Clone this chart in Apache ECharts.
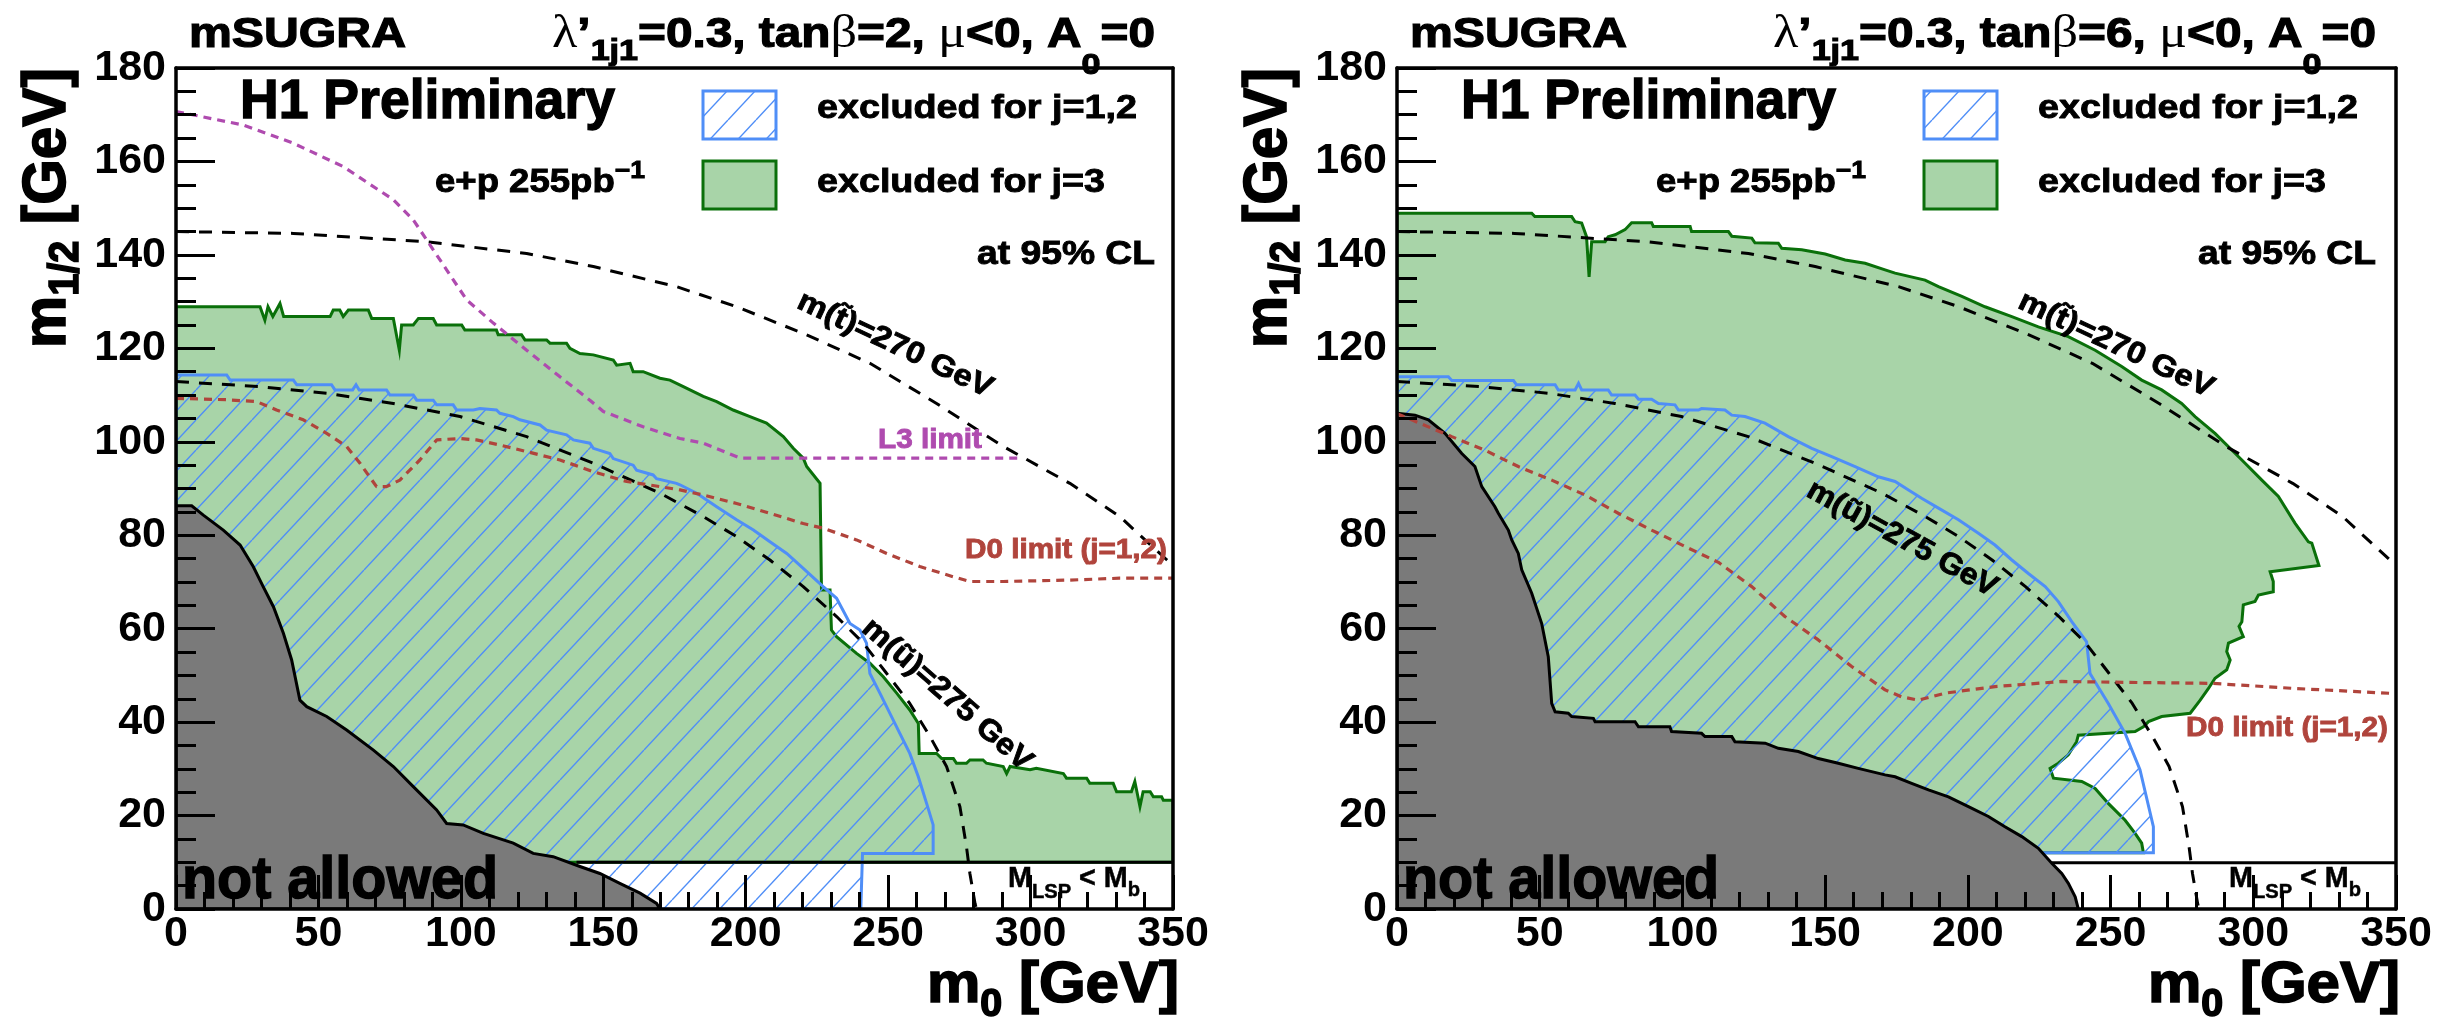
<!DOCTYPE html>
<html><head><meta charset="utf-8">
<script src="https://cdn.jsdelivr.net/npm/echarts/dist/echarts.min.js"></script>
<style>html,body{margin:0;padding:0;background:#fff}#c{width:2458px;height:1033px}</style>
</head><body><div id="c"></div>
<script>
// ---------------- data (m0 [GeV], m1/2 [GeV]) ----------------
// common sfermion mass contours
const stopContour = [[0,145],[41.2,144.6],[88,142.8],[123.1,140.3],[146.5,137.5],[175.7,133.2],[196.8,128.9],[220.2,123.2],[243.6,116.8],[267,108.2],[290.4,99],[313.8,91.1],[331.3,84],[347.7,74.8],[350,73.5]];
const supContour = [[0,112.9],[29.5,111.8],[52.9,110.4],[76.3,108.2],[99.7,105.4],[123.1,101.1],[146.5,95.4],[169.9,89],[185.1,84],[196.8,79.7],[208.5,74.7],[220.2,69],[231.9,62.6],[241.3,56.9],[249.5,50.4],[257.6,44],[264.7,36.9],[270.5,30.5],[275.2,21.9],[277.5,13.3],[278.7,7.6],[280.5,1.2],[281,0]];

// left panel: tan(beta)=2
const L_notAllowed = [[0,86.3],[5.5,86.3],[9.6,84.3],[16.6,81.1],[22.5,77.9],[27.1,73.3],[30.6,69],[34.2,64.7],[37.7,59],[40.6,53.3],[43.5,44.7],[45.9,43.3],[52.9,41.2],[59.9,38.3],[69.3,34],[76.3,30.5],[83.3,26.2],[91.5,21.2],[95,18.3],[100.8,18],[107.9,16.2],[118.4,14.1],[125.4,11.9],[132.4,11.2],[141.8,9.1],[148.8,7.6],[155.8,5.5],[162.9,3.4],[168.7,1.2],[169.9,0],[0,0]];
const L_j3 = [[0,128.9],[29.5,128.9],[31.2,126],[32.3,128.9],[34,126.8],[36.5,129.6],[37.8,126.8],[54.1,126.8],[55.2,128.2],[57.5,128.2],[58.7,126.8],[60.5,128.2],[67.5,128.2],[68.7,126.4],[76.3,126.4],[78.4,119.6],[79.2,125],[83.3,125],[85.1,126.4],[90.3,126.4],[91.5,125],[100.3,125],[101.4,123.9],[112.5,123.9],[113.1,122.9],[121.3,122.9],[122.5,121.8],[130.1,121.8],[131.3,121.1],[137.1,121.1],[138.3,120],[141.8,118.9],[146.5,118.6],[153.5,117.5],[154.7,116.4],[159.4,116.8],[160.5,115],[164,115],[169.9,113.6],[173.4,113.2],[178.1,111.8],[185.1,109.7],[189.8,108.6],[195.6,106.8],[201.5,105.4],[207.3,104],[213.2,101.1],[216.7,98.6],[220.2,96.5],[221.4,94.7],[226.1,91.1],[226.6,68.3],[229.6,68.3],[230.1,59.7],[231.9,58.3],[238.9,54.7],[243.6,52.6],[248.3,49.7],[253,46.2],[257.6,42.6],[260.6,39.7],[260.9,33.3],[267,33.3],[268.8,32.2],[272.9,32.2],[274,31.2],[277.5,31.2],[278.7,31.9],[283.3,31.9],[284.5,31.2],[290.4,30.5],[291.6,29],[292.8,30.5],[299.8,29.8],[302,30.1],[311.5,29],[312.6,28],[319.7,28],[320.8,26.9],[329,26.9],[330.2,25.1],[335.4,25.1],[336.6,27.3],[338.4,21.9],[339.5,25.1],[342,25.1],[343.1,24],[346,24],[346.6,23.3],[350,23.3],[350,10],[0,10]];
const L_j12 = [[0,114.3],[17.8,114.3],[19,113.2],[41.2,113.2],[42.4,112.2],[54.6,112.2],[55.8,111.1],[62,111.1],[63.2,112.2],[64.3,111.1],[73.9,111.1],[75.1,110],[83.3,110],[84.5,108.9],[90.3,108.9],[91.5,107.9],[97.3,107.9],[98.5,106.8],[104.4,106.8],[106.7,107.1],[112.5,106.8],[113.7,106.1],[118.4,105.4],[120.7,104.7],[127.8,103.6],[130.1,102.5],[137.1,101.5],[139.5,100.4],[145.3,99.7],[146.5,98.6],[152.3,97.5],[153.5,96.4],[160.5,95],[161.7,93.9],[167.5,92.9],[168.7,92.1],[175.7,91.1],[176.9,90.8],[182.8,89],[189.8,86.1],[196.8,83.3],[202.7,81.1],[208.5,78.6],[214.4,76.1],[220.2,72.9],[227.2,69],[231.9,66.5],[236.6,61.1],[240.1,59.7],[242.4,56.9],[243.6,50.4],[247.1,46.2],[254.1,37.6],[257.6,33.3],[260.6,28.3],[263.5,22.6],[265.8,18],[265.8,11.9],[241,11.9],[240.4,0],[0,0]];
const L_D0 = [[0,109.3],[17.8,109],[28.3,108.6],[35.3,106.8],[44.7,104.7],[52.9,101.8],[59.9,99],[64.6,95.4],[70.4,90.4],[73.9,90.4],[78.6,91.8],[85.6,96.1],[91.5,100.4],[99.7,100.7],[105.5,100.4],[113.7,99.3],[123.1,97.9],[134.8,96.1],[146.5,93.6],[158.2,91.5],[169.9,90.4],[176.9,89.7],[185.1,88.6],[196.8,86.8],[208.5,84.7],[220.2,82.5],[227.2,81.5],[238.9,79],[249.5,76.1],[261.1,73.3],[272.9,71.1],[278.7,70.1],[290.4,70.1],[313.8,70.4],[331.3,70.8],[350,70.8]];
const L_L3 = [[0,170.7],[23.6,167.8],[41.2,163.9],[58.7,158.9],[76.3,151.8],[83.3,147.5],[88,143.2],[95,136.8],[102,130.4],[111.4,125.4],[123.1,119.6],[134.8,113.9],[145.3,108.9],[150,106.5],[164,103.2],[176.9,100.7],[185.1,99.7],[198,96.5],[295.7,96.5]];
const L_lsp = [[140.6,10],[350,10]];

// right panel: tan(beta)=6
const R_notAllowed = [[0,106.1],[6.3,105.7],[11,104.7],[16.8,101.8],[22.7,97.5],[27.3,94.7],[29.7,90.4],[34.3,86.1],[35.5,84.7],[39,81.1],[40.2,79],[42.5,76.1],[43.7,72.6],[47.2,67.6],[50.7,61.1],[53,54],[54.2,44],[55.4,42.2],[60,41.9],[61.2,41.2],[68.8,40.8],[69.4,40.1],[83.4,40.1],[84.6,39],[95.6,39],[96.2,38],[106.7,37.6],[107.9,36.9],[117.3,36.9],[118.4,35.8],[129,35.5],[133.6,34.4],[140.6,33.7],[147.6,32.2],[154.6,31.2],[161.6,30.1],[171,28.7],[174.5,28.3],[180.3,26.9],[186.2,25.5],[193.2,24],[200.2,21.9],[207.2,19.8],[213,17.6],[218.9,15.5],[224.7,13],[229.4,9.8],[232.9,7.6],[235.2,5.5],[237.6,2.6],[238.7,0],[0,0]];
const R_j3 = [[0,148.9],[47.2,148.9],[48.3,148.2],[61.2,148.2],[62.4,147.1],[64.7,146.8],[66.4,143.9],[67.3,135.3],[68.2,142.8],[72.9,142.8],[74,143.9],[76.4,144.3],[79.9,145.4],[82.2,146.9],[89.2,146.9],[89.8,146.1],[102.7,146.1],[103.2,145],[116.1,145],[117.3,144],[124.3,143.6],[125.4,142.6],[133.6,142.5],[134.8,141.4],[141.8,141.1],[150,140.2],[157,138.9],[164,138.2],[171,136.8],[174.5,136.1],[185,134.6],[189.7,133.2],[197.9,131.1],[206,128.9],[215.4,126.8],[224.7,124.6],[235.2,122.5],[244.6,119.6],[253.9,116.1],[260.9,113.2],[267.9,111.1],[274.9,108.2],[279.6,105.4],[286.6,101.8],[296,96.1],[303,91.8],[308.8,88.3],[314.6,82.6],[319.3,78.6],[320.5,78.3],[323,73.5],[305.9,72.2],[307,70.1],[307,67.9],[301.8,67.2],[300.6,65.8],[296.5,65.1],[296,61.5],[295,60.5],[296.5,58.3],[291.3,56.9],[290.7,55.1],[291.9,53.3],[290.7,51.2],[286.6,49.4],[284.3,47.2],[281.4,44.7],[277.9,41.9],[267.9,41.2],[263.3,40.1],[261.5,39],[258.6,38],[238.7,37.2],[238.1,35.8],[235.2,33],[231.7,31.2],[228.8,30.1],[230,28],[239.9,27.3],[244.6,25.8],[249.2,22.6],[255.1,19],[258.6,16.2],[260.9,14.1],[261.5,12.06],[0,12.06]];
const R_j12 = [[0,113.9],[18,113.9],[19.2,113.1],[40.8,113.1],[41.9,112.2],[55.4,112.2],[56.5,111.1],[62.4,111.1],[63.6,112.5],[64.7,111.1],[74,111.1],[75.2,110],[83.4,110],[84.6,109.1],[89.2,109.1],[91.6,108.2],[97.4,107.9],[98.6,106.8],[105.6,106.8],[106.7,107.1],[114.9,106.8],[117.3,105.7],[121.9,105.4],[128.9,104],[137.1,101.1],[145.3,98.6],[152.3,96.8],[160.5,94.7],[168.6,92.5],[174.5,91.5],[179.2,89.7],[183.8,87.9],[189.7,85.8],[196.7,83.3],[203.7,80.4],[209.5,77.9],[215.4,74.7],[221.2,71.8],[227.1,69],[231.7,65.8],[236.4,61.5],[241.6,57.2],[242.8,50.4],[249.2,44],[255.1,37.6],[260.3,29.8],[265,17.6],[265,12.06],[0,12.06]];
const R_D0 = [[0,106],[19.2,101.1],[30.8,98.2],[42.5,94.7],[54.2,91.8],[65.9,88.6],[77.5,84.7],[89.2,81.1],[100.9,77.6],[112.6,74.2],[124.3,69],[135.9,62.6],[147.6,57.6],[159.3,51.9],[171,46.9],[176.8,45.4],[182.7,44.7],[192,46.2],[209.5,47.6],[232.9,48.7],[256.2,48.5],[285.4,48.3],[314.6,47.2],[350,46.1]];
const R_lsp = [[229.4,9.9],[350,9.9]];

// axis ranges / ticks
const xRange = [0, 350], xStep = 50, xMinorSplit = 5;
const yRange = [0, 180], yStep = 20, yMinorSplit = 4;

// ---------------- styles ----------------
const F = '"Liberation Sans", Arial, Helvetica, sans-serif';
const FS = '"Liberation Serif", "DejaVu Serif", serif';
const GREEN = '#a8d4a8', DKGREEN = '#0a700a', BLUE = '#4f8ef7', GREY = '#7a7a7a', PURPLE = '#af4baf', BROWN = '#b0443c';

function hatchPattern() {
  const c = document.createElement('canvas');
  const w = 28, h = 30; c.width = w; c.height = h;
  const g = c.getContext('2d');
  g.strokeStyle = BLUE; g.lineWidth = 1.4;
  for (let k = -1; k <= 1; k++) { g.beginPath(); g.moveTo(k * w, h); g.lineTo(k * w + w, 0); g.stroke(); }
  return { image: c, repeat: 'repeat' };
}
const HATCH = hatchPattern();

function polySeries(data, gi, style, z) {
  return {
    type: 'custom', xAxisIndex: gi * 2, yAxisIndex: gi * 2, data: data, z: z, silent: true, animation: false, clip: true,
    encode: { x: 0, y: 1 },
    renderItem: function (params, api) {
      if (params.dataIndex !== 0) return null;
      const pts = data.map(function (p) { return api.coord(p); });
      return { type: 'polygon', shape: { points: pts }, style: style };
    }
  };
}
function lineSeries(data, gi, color, width, dash, z) {
  return {
    type: 'line', xAxisIndex: gi * 2, yAxisIndex: gi * 2, data: data, showSymbol: false, symbol: 'none',
    z: z, silent: true, animation: false, clip: true,
    lineStyle: { color: color, width: width, type: dash, cap: 'butt' }
  };
}

const TICK = { color: '#000', width: 3 };
function xAxes(gi) {
  return [
    { gridIndex: gi, type: 'value', min: xRange[0], max: xRange[1], interval: xStep, position: 'bottom', z: 10,
      axisLine: { show: true, onZero: false, lineStyle: { color: '#000', width: 3.5 } },
      axisTick: { show: true, inside: true, length: 34, lineStyle: TICK },
      minorTick: { show: true, splitNumber: xMinorSplit, length: 17, lineStyle: TICK },
      axisLabel: { show: true, fontSize: 43, fontWeight: 'bold', fontFamily: F, color: '#000', margin: 4 },
      splitLine: { show: false }, minorSplitLine: { show: false } },
    { gridIndex: gi, type: 'value', min: xRange[0], max: xRange[1], position: 'top', z: 10,
      axisLine: { show: true, onZero: false, lineStyle: { color: '#000', width: 3.5 } },
      axisTick: { show: false }, axisLabel: { show: false }, splitLine: { show: false } }
  ];
}
function yAxes(gi) {
  return [
    { gridIndex: gi, type: 'value', min: yRange[0], max: yRange[1], interval: yStep, position: 'left', z: 10,
      axisLine: { show: true, onZero: false, lineStyle: { color: '#000', width: 3.5 } },
      axisTick: { show: true, inside: true, length: 39, lineStyle: TICK },
      minorTick: { show: true, splitNumber: yMinorSplit, length: 20, lineStyle: TICK },
      axisLabel: { show: true, fontSize: 43, fontWeight: 'bold', fontFamily: F, color: '#000', margin: 10 },
      splitLine: { show: false }, minorSplitLine: { show: false } },
    { gridIndex: gi, type: 'value', min: yRange[0], max: yRange[1], position: 'right', z: 10,
      axisLine: { show: true, onZero: false, lineStyle: { color: '#000', width: 3.5 } },
      axisTick: { show: false }, axisLabel: { show: false }, splitLine: { show: false } }
  ];
}

// ---------------- text helpers ----------------
const mctx = document.createElement('canvas').getContext('2d');
function tw(t, size, weight, fam) { mctx.font = weight + ' ' + size + 'px ' + fam; return mctx.measureText(t).width; }
function textSeq(x, y, parts, o) {
  o = o || {};
  let cx = 0; const kids = [];
  parts.forEach(function (p) {
    const size = p.size, weight = p.weight || 'bold', fam = p.family || F;
    const font = weight + ' ' + size + 'px ' + fam;
    const col = p.fill || o.fill || '#000';
    const st = { text: p.t, font: font, fill: col, textAlign: 'left', textVerticalAlign: 'middle', align: 'left', verticalAlign: 'middle' };
    if (weight === 'bold') { st.stroke = col; st.lineWidth = o.sw != null ? o.sw : 0.9; }
    kids.push({ type: 'text', x: cx, y: p.dy || 0, silent: true, z: 100, style: st });
    cx += tw(p.t, size, weight, fam);
  });
  const W = cx; const s = o.targetW ? o.targetW / W : 1;
  const shift = o.align === 'right' ? -W : (o.align === 'center' ? -W / 2 : 0);
  kids.forEach(function (k) { k.x += shift; });
  return { type: 'group', x: x, y: y, rotation: o.rotation || 0, scaleX: s, scaleY: 1, silent: true, z: 100, children: kids };
}

function panelTexts(dx, tanb) {
  const els = [];
  els.push(textSeq(189 + dx, 35, [{ t: 'mSUGRA', size: 42 }], { targetW: 217, sw: 1.2 }));
  els.push(textSeq(552 + dx, 35, [
    { t: 'λ', size: 46, weight: 'normal', family: FS }, { t: '’', size: 42 },
    { t: '1j1', size: 30, dy: 17 }, { t: '=0.3, tan', size: 42 },
    { t: 'β', size: 46, weight: 'normal', family: FS }, { t: '=' + tanb + ', ', size: 42 },
    { t: 'μ', size: 46, weight: 'normal', family: FS }, { t: '<0, A', size: 42 },
    { t: '0', size: 30, dy: 31 }, { t: '=0', size: 42 }], { targetW: 603, sw: 1.2 }));
  els.push(textSeq(240 + dx, 103, [{ t: 'H1 Preliminary', size: 56 }], { targetW: 375, sw: 1.4 }));
  els.push(textSeq(435 + dx, 183, [{ t: 'e+p 255pb', size: 33 }, { t: '−1', size: 24, dy: -12 }], { targetW: 210 }));
  els.push(textSeq(1155 + dx, 255, [{ t: 'at 95% CL', size: 33 }], { targetW: 178, align: 'right' }));
  els.push(textSeq(817 + dx, 109, [{ t: 'excluded for j=1,2', size: 33 }], { targetW: 320 }));
  els.push(textSeq(817 + dx, 183, [{ t: 'excluded for j=3', size: 33 }], { targetW: 288 }));
  els.push({ type: 'rect', z: 100, silent: true, shape: { x: 703 + dx, y: 91, width: 73, height: 48 }, style: { fill: HATCH, stroke: BLUE, lineWidth: 3 } });
  els.push({ type: 'rect', z: 100, silent: true, shape: { x: 703 + dx, y: 161, width: 73, height: 48 }, style: { fill: GREEN, stroke: DKGREEN, lineWidth: 3 } });
  els.push(textSeq(182 + dx, 881, [{ t: 'not allowed', size: 60 }], { targetW: 316, sw: 1.4 }));
  els.push(textSeq(1008 + dx, 879, [{ t: 'M', size: 30 }, { t: 'LSP', size: 21, dy: 13 }, { t: ' < ', size: 30 }, { t: 'M', size: 30 }, { t: 'b', size: 21, dy: 11 }], { targetW: 132, sw: 0.5 }));
  els.push(textSeq(895 + dx, 345, [{ t: 'm(t\u0303)=270 GeV', size: 30 }], { targetW: 212, align: 'center', rotation: -0.44 }));
  els.push(textSeq(48 + dx, 348, [{ t: 'm', size: 62 }, { t: '1/2', size: 42, dy: 18 }, { t: ' [GeV]', size: 62 }], { targetW: 280, rotation: Math.PI / 2, sw: 1.6 }));
  els.push(textSeq(1179 + dx, 986, [{ t: 'm', size: 58 }, { t: '0', size: 38, dy: 20 }, { t: ' [GeV]', size: 58 }], { targetW: 252, align: 'right', sw: 1.6 }));
  return els;
}

const graphics = [].concat(
  panelTexts(0, 2), panelTexts(1221, 6),
  [
    textSeq(878, 440, [{ t: 'L3 limit', size: 28 }], { targetW: 104, fill: PURPLE }),
    textSeq(1167, 550, [{ t: 'D0 limit (j=1,2)', size: 28 }], { targetW: 202, align: 'right', fill: BROWN }),
    textSeq(2388, 728, [{ t: 'D0 limit (j=1,2)', size: 28 }], { targetW: 202, align: 'right', fill: BROWN }),
    textSeq(947, 695, [{ t: 'm(u\u0303)=275 GeV', size: 30 }], { targetW: 215, align: 'center', rotation: -0.717 }),
    textSeq(1902, 539, [{ t: 'm(u\u0303)=275 GeV', size: 30 }], { targetW: 212, align: 'center', rotation: -0.50 })
  ]
);

const DASH = [13, 10], DOT = [8, 6];
const series = [
  polySeries(L_j3, 0, { fill: GREEN, stroke: DKGREEN, lineWidth: 3, lineJoin: 'miter' }, 2),
  polySeries(L_j12, 0, { fill: HATCH, stroke: BLUE, lineWidth: 3, lineJoin: 'miter' }, 3),
  polySeries(L_notAllowed, 0, { fill: GREY, stroke: '#000', lineWidth: 3 }, 4),
  lineSeries(stopContour, 0, '#000', 3, DASH, 5),
  lineSeries(supContour, 0, '#000', 3, DASH, 5),
  lineSeries(L_D0, 0, BROWN, 3.2, DOT, 5),
  lineSeries(L_L3, 0, PURPLE, 3.2, DOT, 5),
  lineSeries(L_lsp, 0, '#000', 3, 'solid', 5),

  polySeries(R_j3, 1, { fill: GREEN, stroke: DKGREEN, lineWidth: 3, lineJoin: 'miter' }, 2),
  polySeries(R_j12, 1, { fill: HATCH, stroke: BLUE, lineWidth: 3, lineJoin: 'miter' }, 3),
  polySeries(R_notAllowed, 1, { fill: GREY, stroke: '#000', lineWidth: 3 }, 4),
  lineSeries(stopContour, 1, '#000', 3, DASH, 5),
  lineSeries(supContour, 1, '#000', 3, DASH, 5),
  lineSeries(R_D0, 1, BROWN, 3.2, DOT, 5),
  lineSeries(R_lsp, 1, '#000', 3, 'solid', 5)
];

const chart = echarts.init(document.getElementById('c'), null, { renderer: 'canvas' });
chart.setOption({
  animation: false,
  backgroundColor: '#fff',
  grid: [
    { left: 176, top: 68, width: 997, height: 841, containLabel: false },
    { left: 1397, top: 68, width: 999, height: 841, containLabel: false }
  ],
  xAxis: [].concat(xAxes(0), xAxes(1)),
  yAxis: [].concat(yAxes(0), yAxes(1)),
  series: series,
  graphic: { elements: graphics }
});
</script></body></html>
